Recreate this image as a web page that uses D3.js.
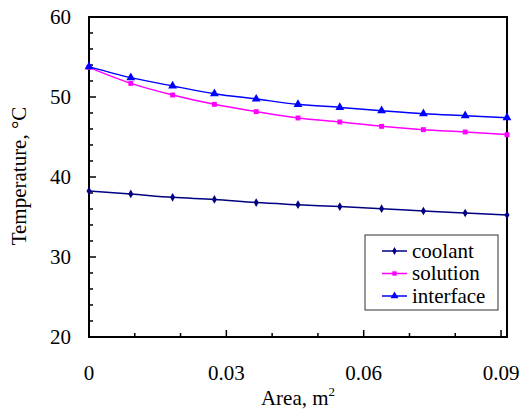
<!DOCTYPE html>
<html><head><meta charset="utf-8">
<script src="https://cdn.jsdelivr.net/npm/d3@7"></script>
<style>body{margin:0;background:#fff}svg{display:block}</style>
</head><body><svg id="c" width="523" height="409"></svg>
<script>
const area = [0, 0.00913, 0.01826, 0.02739, 0.03652, 0.04565, 0.05478, 0.06391, 0.07304, 0.08217, 0.0913];
const coolant = [38.25, 37.88, 37.46, 37.2, 36.8, 36.54, 36.3, 36.04, 35.75, 35.5, 35.25];
const solution = [53.7, 51.7, 50.25, 49.08, 48.17, 47.38, 46.88, 46.33, 45.92, 45.63, 45.29];
const iface = [53.8, 52.42, 51.38, 50.42, 49.75, 49.08, 48.7, 48.29, 47.92, 47.67, 47.42];
const seriesNames = ["coolant", "solution", "interface"];
const xTicks = [0, 0.03, 0.06, 0.09];
const yTicks = [20, 30, 40, 50, 60];

const FF = "Liberation Serif";
const svg = d3.select("#c");
const L = 89, R = 507, T = 17, B = 337;
const x = d3.scaleLinear().domain([0, 0.0913]).range([L, R]);
const y = d3.scaleLinear().domain([20, 60]).range([B, T]);
const fs = 21;

// frame
svg.append("rect").attr("x", L).attr("y", T).attr("width", R - L).attr("height", B - T)
  .attr("fill", "none").attr("stroke", "#000").attr("stroke-width", 2);

// y axis ticks (inside)
const yMinor = d3.range(20, 60.01, 2);
svg.append("g").selectAll("line").data(yMinor).join("line")
  .attr("x1", L).attr("x2", d => L + (d % 10 === 0 ? 7 : 4))
  .attr("y1", d => y(d)).attr("y2", d => y(d)).attr("stroke", "#000").attr("stroke-width", 1.5);
svg.append("g").selectAll("text").data(yTicks).join("text")
  .attr("font-family", FF)
  .attr("x", 71).attr("y", d => y(d)).attr("dy", "0.35em").attr("text-anchor", "end")
  .attr("font-size", fs).text(d => d);

// x axis ticks (inside)
const xMinor = d3.range(0, 10).map(i => i * 0.01);
svg.append("g").selectAll("line").data(xMinor).join("line")
  .attr("x1", d => x(d)).attr("x2", d => x(d))
  .attr("y1", B).attr("y2", (d, i) => B - (i % 3 === 0 ? 7 : 4)).attr("stroke", "#000").attr("stroke-width", 1.5);
svg.append("g").selectAll("text").data(xTicks).join("text")
  .attr("font-family", FF)
  .attr("x", d => x(d)).attr("y", 380).attr("text-anchor", "middle")
  .attr("font-size", fs).text(d => d === 0 ? "0" : d.toFixed(2));

// axis titles
const xt = svg.append("text").attr("font-family", FF).attr("x", 298).attr("y", 405).attr("text-anchor", "middle").attr("font-size", fs);
xt.append("tspan").text("Area, m");
xt.append("tspan").attr("font-size", 13).attr("dy", -9).text("2");
svg.append("text").attr("font-family", FF).attr("transform", `translate(26,176) rotate(-90)`).attr("text-anchor", "middle")
  .attr("font-size", fs).text("Temperature, °C");

// series
const colors = ["#000080", "#ff00ff", "#0000ff"];
const data = [coolant, solution, iface];
const symbols = [d3.symbolDiamond, d3.symbolSquare, d3.symbolTriangle];
const sizes = [22, 24, 34];
const line = d3.line().x((d, i) => x(area[i])).y(d => y(d)).curve(d3.curveMonotoneX);
data.forEach((vals, k) => {
  svg.append("path").datum(vals).attr("d", line).attr("fill", "none")
    .attr("stroke", colors[k]).attr("stroke-width", 1.5);
  svg.append("g").selectAll("path").data(vals).join("path")
    .attr("transform", (d, i) => `translate(${x(area[i])},${y(d)})`)
    .attr("d", d3.symbol(symbols[k], sizes[k])).attr("fill", colors[k]);
});

// legend
const lg = svg.append("g");
lg.append("rect").attr("x", 365).attr("y", 235).attr("width", 133).attr("height", 75)
  .attr("fill", "#fff").attr("stroke", "#333").attr("stroke-width", 1);
seriesNames.forEach((n, k) => {
  const yy = 251 + k * 22.5;
  lg.append("line").attr("x1", 382).attr("x2", 407).attr("y1", yy).attr("y2", yy)
    .attr("stroke", colors[k]).attr("stroke-width", 1.5);
  lg.append("path").attr("transform", `translate(394.5,${yy})`)
    .attr("d", d3.symbol(symbols[k], sizes[k] * 0.8)).attr("fill", colors[k]);
  lg.append("text").attr("font-family", FF).attr("x", 412).attr("y", yy).attr("dy", "0.33em").attr("font-size", fs).text(n);
});
</script></body></html>
